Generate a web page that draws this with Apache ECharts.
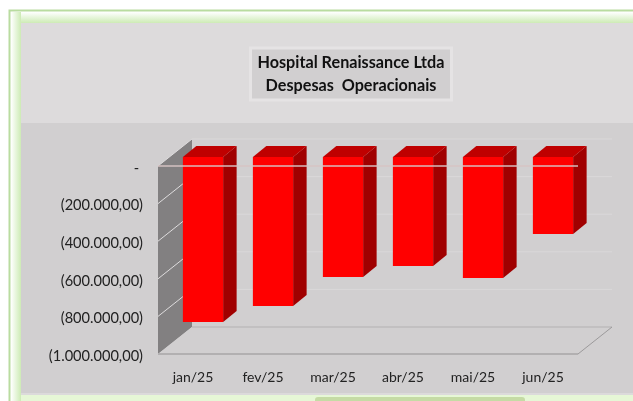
<!DOCTYPE html>
<html>
<head>
<meta charset="utf-8">
<style>html,body{margin:0;padding:0;background:#fff}#c{width:633px;height:401px}</style>
<script src="https://cdn.jsdelivr.net/npm/echarts@6/dist/echarts.min.js"></script>
</head>
<body>
<div id="c"></div>
<script>
var categories = ['jan/25','fev/25','mar/25','abr/25','mai/25','jun/25'];
var despesas = [-878000,-793000,-638000,-580000,-644000,-410000];
var tickValues = [0,-200000,-400000,-600000,-800000,-1000000];
var tickLabels = ['- ','(200.000,00)','(400.000,00)','(600.000,00)','(800.000,00)','(1.000.000,00)'];
var titleLines = ['Hospital Renaissance Ltda','Despesas  Operacionais'];

var FONT = 'Lato';
var WALL = {dx:34, dy:-27};
var BAR = {shiftX:10, shiftY:-9, dx:13.5, dy:-11, ratio:0.575};

function poly(points, fill, stroke){
  return {type:'polygon', shape:{points:points}, style:{fill:fill, stroke:stroke||null, lineWidth:stroke?1:0}};
}
function seg(x1,y1,x2,y2,color,w){
  return {type:'line', shape:{x1:x1,y1:y1,x2:x2,y2:y2}, style:{stroke:color, lineWidth:w||1, fill:null}};
}

function renderFrame(params, api){
  var cs = params.coordSys, v = api.value(0), y = api.coord([0,v])[1];
  var L = cs.x, R = cs.x+cs.width, B = cs.y+cs.height, T = cs.y;
  var kids = [];
  if (params.dataIndex === 0) {
    kids.push(poly([[L,T],[L+WALL.dx,T+WALL.dy],[L+WALL.dx,B+WALL.dy],[L,B]],'#828081'));
    kids.push(poly([[L,B],[L+WALL.dx,B+WALL.dy],[R+WALL.dx,B+WALL.dy],[R,B]],'#d1cfd0'));
  }
  if (v === -1000000) {
    kids.push(seg(L+WALL.dx,y+WALL.dy,R+WALL.dx,y+WALL.dy,'#bdbbbc',1.5));
    kids.push(seg(L,y,R,y,'#b2b0b1',2));
    kids.push(seg(R,y,R+WALL.dx,y+WALL.dy,'#9c9a9b',1));
  } else {
    kids.push(seg(L+WALL.dx,y+WALL.dy,R+WALL.dx,y+WALL.dy,'#dad8d9',1));
    kids.push(seg(L,y,L+WALL.dx,y+WALL.dy,'#dedcdd',1));
  }
  return {type:'group', children:kids};
}

function renderBar(params, api){
  var c = api.value(0), top = api.coord([c,0]), bot = api.coord([c,api.value(1)]);
  var w = api.size([1,0])[0]*BAR.ratio;
  var x0 = top[0]-w/2+BAR.shiftX, x1 = x0+w;
  var y0 = top[1]+BAR.shiftY, y1 = bot[1]+BAR.shiftY;
  var dx = BAR.dx, dy = BAR.dy;
  return {type:'group', children:[
    poly([[x1,y0],[x1+dx,y0+dy],[x1+dx,y1+dy],[x1,y1]],'#a00000'),
    poly([[x0,y0],[x0+dx,y0+dy],[x1+dx,y0+dy],[x1,y0]],'#bf0000'),
    {type:'rect', shape:{x:x0,y:y0,width:w,height:y1-y0}, style:{fill:'#ff0000'}}
  ]};
}

function renderZero(params, api){
  var cs = params.coordSys, y = api.coord([0,api.value(0)])[1];
  return seg(cs.x, y, cs.x+cs.width, y, 'rgba(215,195,195,0.72)', 2);
}

var chart = echarts.init(document.getElementById('c'), null, {renderer:'canvas'});
chart.setOption({
  animation:false,
  backgroundColor:'#ffffff',
  graphic:[
    {type:'rect', z:-10, shape:{x:9.5,y:10.5,width:640,height:400}, style:{fill:'#fff', stroke:'#b9dca0', lineWidth:2}},
    {type:'rect', z:-10, shape:{x:11,y:12,width:622,height:11}, style:{fill:new echarts.graphic.LinearGradient(0,0,0,1,[{offset:0,color:'#ffffff'},{offset:1,color:'#cdebb5'}])}},
    {type:'rect', z:-10, shape:{x:11,y:12,width:10,height:389}, style:{fill:new echarts.graphic.LinearGradient(0,0,1,0,[{offset:0,color:'#ffffff'},{offset:1,color:'#cdebb5'}])}},
    {type:'rect', z:-10, shape:{x:21,y:393,width:612,height:8}, style:{fill:'#e6f7d6'}},
    {type:'rect', z:-9, shape:{x:315,y:397,width:210,height:4,r:[3,3,0,0]}, style:{fill:'#c5dba5'}},
    {type:'rect', z:-9, shape:{x:21,y:23,width:612,height:100}, style:{fill:'#dddbdc'}},
    {type:'rect', z:-9, shape:{x:21,y:123,width:612,height:271}, style:{fill:'#d1cfd0'}},
    {type:'rect', z:-9, shape:{x:21,y:393,width:612,height:2}, style:{fill:'#dcdadb'}}
  ],
  title:{
    text:titleLines.join('\n'),
    left:344, top:47.5, textAlign:'center',
    backgroundColor:'#d1cfd0', borderColor:'#e5e3e4', borderWidth:3,
    padding:[4,7,3,7],
    textStyle:{fontFamily:FONT, fontSize:16.2, fontWeight:'bold', color:'#111', lineHeight:23}
  },
  grid:{left:158, right:55, top:166, bottom:47, containLabel:false},
  xAxis:{
    type:'category', data:categories, position:'bottom',
    axisLine:{show:false, onZero:false}, axisTick:{show:false}, splitLine:{show:false},
    axisLabel:{margin:16, fontFamily:FONT, fontSize:14, color:'#222', interval:0}
  },
  yAxis:{
    type:'value', min:-1000000, max:0, interval:200000,
    axisLine:{show:false}, axisTick:{show:false}, splitLine:{show:false},
    axisLabel:{
      margin:15, fontFamily:FONT, fontSize:14.6, color:'#222', verticalAlign:'top', lineHeight:4,
      formatter:function(v){ return tickLabels[tickValues.indexOf(v)]; }
    }
  },
  series:[
    {type:'custom', name:'frame', z:1, silent:true, renderItem:renderFrame, clip:false,
     encode:{y:0}, data:tickValues.map(function(v){return [v];})},
    {type:'custom', name:'Despesas', z:2, silent:true, renderItem:renderBar, clip:false,
     encode:{x:0,y:1}, data:despesas.map(function(v,i){return [i,v];})},
    {type:'custom', name:'zero', z:3, silent:true, renderItem:renderZero, clip:false,
     encode:{y:0}, data:[[tickValues[0]]]}
  ]
});
</script>
</body>
</html>
